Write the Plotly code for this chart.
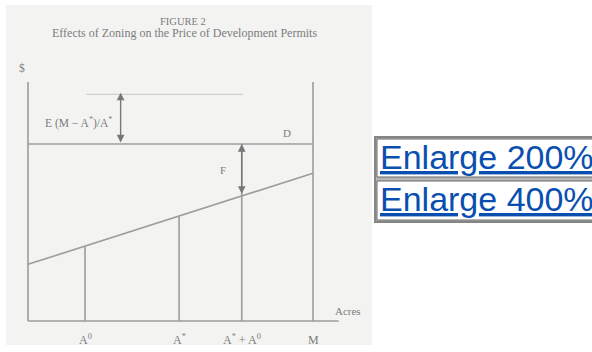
import plotly.graph_objects as go

# ---------------- data ----------------
acre_ticks = [2.0, 5.3, 7.5, 10.0]
acre_tick_labels = ["A<sup>0</sup>", "A<sup>*</sup>", "A<sup>*</sup> + A<sup>0</sup>", "M"]
supply_x = [0.0, 10.0]
supply_y = [3.2, 8.35]
vertical_heights = [4.2, 5.9, 10.0]          # verticals at A0, A*, A*+A0
demand_level = 10.0                           # line D
zoning_top = 12.9                             # top of E(M-A*)/A* arrow
faint_x = [2.05, 7.55]
axis_top = 13.5
axis_x_end = 10.9
M_value = 10.0
e_arrow_x = 3.25
f_arrow_bottom = 7.1

LINE = "#9c9c9c"
TXT = "#7c7c7c"
SERIF = "Liberation Serif, Times New Roman, serif"

fig = go.Figure()

def seg(xs, ys, color=LINE, width=1.6):
    fig.add_trace(go.Scatter(x=xs, y=ys, mode="lines",
                             line=dict(color=color, width=width),
                             hoverinfo="skip", showlegend=False))

# axes of the diagram
seg([0, 0], [0, axis_top])
seg([M_value, M_value], [0, axis_top])
seg([0, axis_x_end], [0, 0])
# demand line D
seg([0, M_value], [demand_level, demand_level])
# faint upper line
seg(faint_x, [zoning_top - 0.1, zoning_top - 0.1], color="#d0d0d0", width=1.2)
# supply (sloped) line
seg(supply_x, supply_y)
# verticals
for xv, hv in zip(acre_ticks[:3], vertical_heights):
    seg([xv, xv], [0, hv])

annotations = []
# double arrows
for (x0, y0, y1) in [(e_arrow_x, demand_level, zoning_top),
                     (acre_ticks[2], f_arrow_bottom, demand_level)]:
    annotations.append(dict(x=x0, y=y1, ax=x0, ay=y0, xref="x", yref="y",
                            axref="x", ayref="y", text="", showarrow=True,
                            arrowhead=2, arrowside="end+start", arrowsize=1.1,
                            arrowwidth=1.4, arrowcolor="#777777"))

def txt(x, y, s, size=10, xanchor="center", color=TXT, xref="x", yref="y", font=SERIF):
    annotations.append(dict(x=x, y=y, xref=xref, yref=yref, text=s, showarrow=False,
                            xanchor=xanchor, yanchor="middle",
                            font=dict(family=font, size=size, color=color)))

for xv, lab in zip(acre_ticks, acre_tick_labels):
    txt(xv, -1.07, lab, size=12)
txt(11.23, 0.56, "Acres", size=11)
txt(9.09, 10.6, "D", size=11)
txt(6.84, 8.53, "F", size=11)
txt(1.77, 11.19, "E (M − A<sup>*</sup>)/A<sup>*</sup>", size=11.5)
txt(-0.2, 14.3, "$", size=11.5)
txt(5.44, 16.9, "FIGURE 2", size=10.5)
txt(5.49, 16.25, "Effects of Zoning on the Price of Development Permits", size=12)

W, H = 592, 352
def px(x):
    return x / W
def py(y):
    return 1 - y / H

shapes = [
    # scanned page background
    dict(type="rect", xref="paper", yref="paper", x0=px(6), x1=px(372), y0=py(345), y1=py(5),
         fillcolor="#f3f3f2", line=dict(width=0), layer="below"),
    # table outer border
    dict(type="rect", xref="paper", yref="paper", x0=px(374), x1=px(600), y0=py(223), y1=py(136),
         fillcolor="#858585", line=dict(width=0), layer="below"),
    dict(type="rect", xref="paper", yref="paper", x0=px(376), x1=px(600), y0=py(221), y1=py(138),
         fillcolor="#b5b5b5", line=dict(width=0), layer="below"),
    # cells
    dict(type="rect", xref="paper", yref="paper", x0=px(377), x1=px(600), y0=py(177), y1=py(139),
         fillcolor="#ffffff", line=dict(color="#6a6a6a", width=1), layer="below"),
    dict(type="rect", xref="paper", yref="paper", x0=px(377), x1=px(600), y0=py(220), y1=py(181),
         fillcolor="#ffffff", line=dict(color="#6a6a6a", width=1), layer="below"),
]

LINK = "#0a4fb0"
for label, yb in [("Enlarge 200%", 157), ("Enlarge 400%", 199)]:
    txt(px(378), py(yb), "<u>" + label + "</u>", size=34, xanchor="left", color=LINK,
        xref="paper", yref="paper", font="Liberation Sans, Arial, sans-serif")

fig.update_layout(
    width=W, height=H, margin=dict(l=0, r=0, t=0, b=0),
    paper_bgcolor="white", plot_bgcolor="rgba(0,0,0,0)",
    xaxis=dict(range=[-28 / 28.5, (W - 28) / 28.5], visible=False, fixedrange=True),
    yaxis=dict(range=[-(H - 321) / 17.7, 321 / 17.7], visible=False, fixedrange=True),
    shapes=shapes, annotations=annotations, showlegend=False,
)

fig.write_html("out.html", config={"displayModeBar": False},
               post_script="document.body.style.margin='0px';document.body.style.overflow='hidden';")
